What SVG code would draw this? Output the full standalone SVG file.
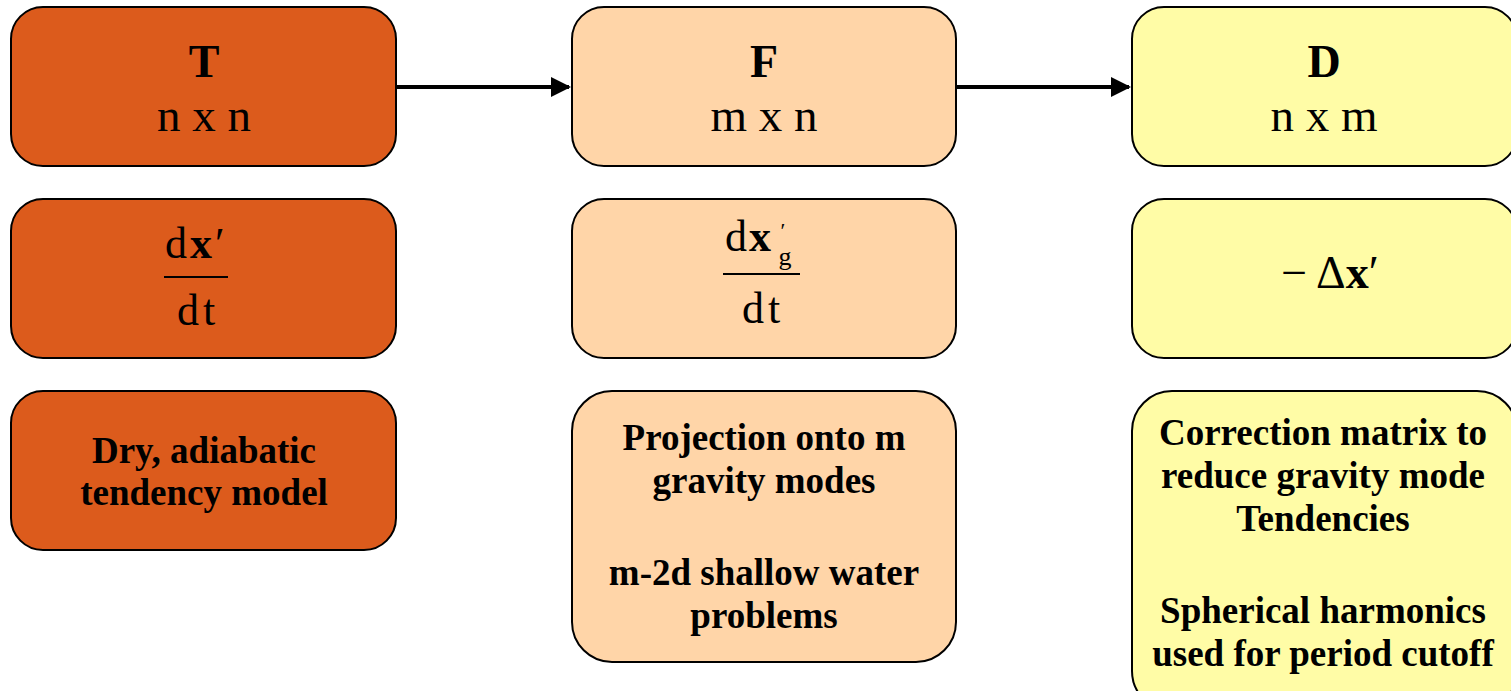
<svg xmlns="http://www.w3.org/2000/svg" width="1511" height="691" viewBox="0 0 1511 691">
<style>
.box{stroke:#000;stroke-width:2}
.o{fill:#DC5B1C}
.p{fill:#FFD5A8}
.y{fill:#FFFCA6}
text{font-family:"Liberation Serif","Times New Roman",serif;fill:#000;text-anchor:middle}
.h{font-size:46px;font-weight:bold}
.d{font-size:47px}
.b{font-size:37px;font-weight:bold}
.m{font-size:44px;text-anchor:start}
.conn{stroke:#000;stroke-width:4;fill:none}
.frac{stroke:#000;stroke-width:2}
</style>
<defs>
<marker id="ah" markerWidth="5" markerHeight="5" refX="4.5" refY="2.5" orient="auto" markerUnits="strokeWidth">
<path d="M0,0 L5,2.5 L0,5 Z" fill="#000"/>
</marker>
</defs>
<g id="connectors">
<line class="conn" x1="397" y1="87" x2="569" y2="87" marker-end="url(#ah)"/>
<line class="conn" x1="957" y1="87" x2="1129" y2="87" marker-end="url(#ah)"/>
</g>
<g id="T">
<rect class="box o" x="11" y="7" width="385" height="159" rx="32"/>
<text class="h" x="204" y="77">T</text>
<text class="d" x="204" y="131">n x n</text>
</g>
<g id="F">
<rect class="box p" x="572" y="7" width="384" height="159" rx="32"/>
<text class="h" x="764" y="77">F</text>
<text class="d" x="764" y="131">m x n</text>
</g>
<g id="D">
<rect class="box y" x="1132" y="7" width="385" height="159" rx="32"/>
<text class="h" x="1324" y="77">D</text>
<text class="d" x="1324" y="131">n x m</text>
</g>
<g id="T-eq">
<rect class="box o" x="11" y="199" width="385" height="159" rx="32"/>
<text class="m" x="165" y="258" letter-spacing="3">d<tspan font-weight="bold">x</tspan>′</text>
<line class="frac" x1="164" y1="277" x2="228" y2="277"/>
<text class="m" x="177" y="325" letter-spacing="4">dt</text>
</g>
<g id="F-eq">
<rect class="box p" x="572" y="199" width="384" height="159" rx="32"/>
<text class="m" x="725" y="251" letter-spacing="2">d<tspan font-weight="bold">x</tspan></text>
<text x="785" y="265" font-size="26">g</text>
<text x="783" y="238" font-size="22">′</text>
<line class="frac" x1="723" y1="274" x2="800" y2="274"/>
<text class="m" x="742" y="323" letter-spacing="4">dt</text>
</g>
<g id="D-eq">
<rect class="box y" x="1132" y="199" width="385" height="159" rx="32"/>
<text x="1330" y="288" font-size="46">− Δ<tspan font-weight="bold">x</tspan>′</text>
</g>
<g id="T-desc">
<rect class="box o" x="11" y="391" width="385" height="159" rx="32"/>
<text class="b" x="204" y="463">Dry, adiabatic</text>
<text class="b" x="204" y="505">tendency model</text>
</g>
<g id="F-desc">
<rect class="box p" x="572" y="391" width="384" height="271" rx="40"/>
<text class="b" x="764" y="450">Projection onto m</text>
<text class="b" x="764" y="493">gravity modes</text>
<text class="b" x="764" y="585">m-2d shallow water</text>
<text class="b" x="764" y="628">problems</text>
</g>
<g id="D-desc">
<rect class="box y" x="1132" y="391" width="385" height="320" rx="40"/>
<text class="b" x="1323" y="445">Correction matrix to</text>
<text class="b" x="1323" y="488">reduce gravity mode</text>
<text class="b" x="1323" y="531">Tendencies</text>
<text class="b" x="1323" y="623">Spherical harmonics</text>
<text class="b" x="1323" y="666">used for period cutoff</text>
</g>
</svg>
